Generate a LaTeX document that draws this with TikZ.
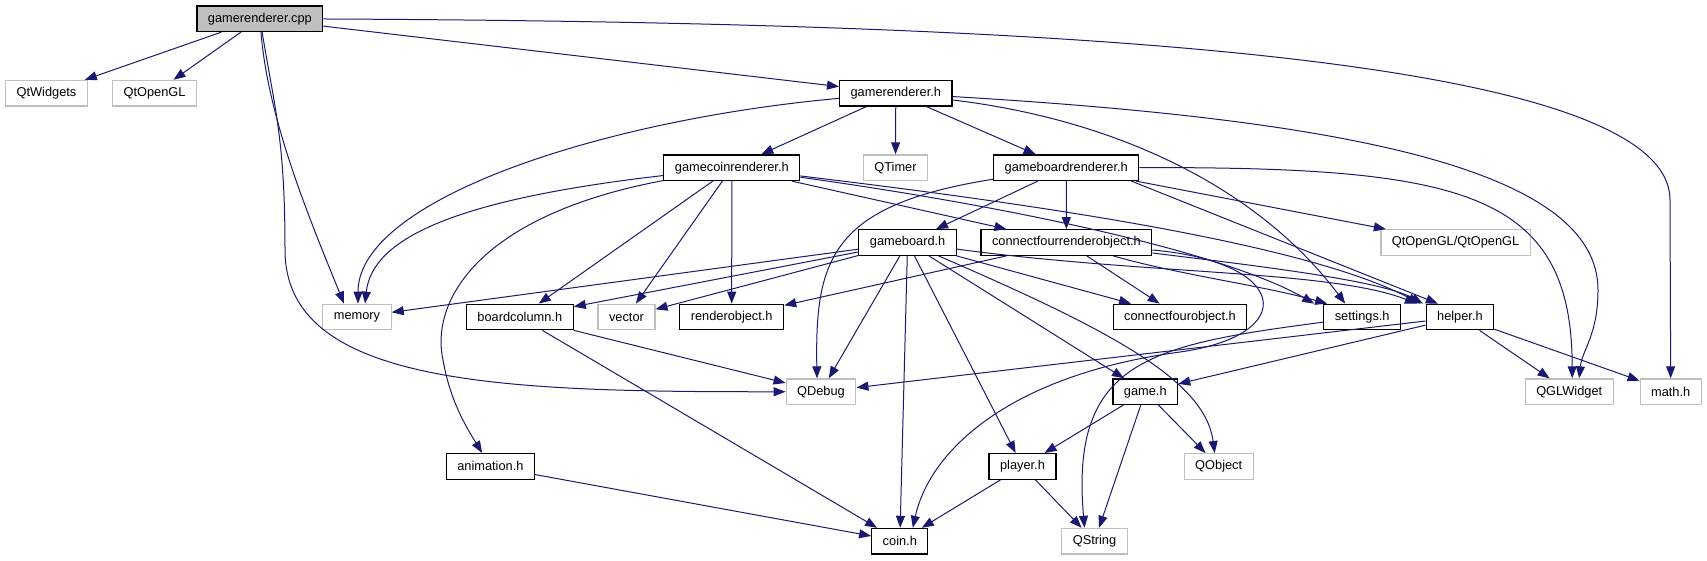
\documentclass[tikz,border=0pt]{standalone}
\usepackage{fontspec}
\setmainfont{Liberation Sans}
\usetikzlibrary{arrows.meta}
\definecolor{edgeblue}{HTML}{191970}
\definecolor{boxgray}{HTML}{BFBFBF}

\begin{document}
\begin{tikzpicture}[x=1pt,y=-1pt,
  box/.style={draw, line width=1.2pt, fill=white, inner xsep=11pt, inner ysep=0pt,
    minimum height=25.6pt, font=\fontsize{12.8}{15}\selectfont},
  incl/.style={box, draw=black},
  sys/.style={box, draw=boxgray},
  root/.style={box, draw=black, fill=boxgray},
  dep/.style={draw=edgeblue, line width=1pt, -{Triangle[length=12pt,width=9pt]}}]
\useasboundingbox (0,0) rectangle (1707,560);

\node[root] (cpp) at (259.9,18.7) {gamerenderer.cpp};
\node[sys] (qtwidgets) at (46.5,93.2) {QtWidgets};
\node[sys] (qtopengl) at (154.6,93.2) {QtOpenGL};
\node[incl] (grh) at (895.8,93.2) {gamerenderer.h};
\node[incl] (gcr) at (731.8,167.7) {gamecoinrenderer.h};
\node[sys] (qtimer) at (895.5,167.7) {QTimer};
\node[incl] (gbr) at (1066.2,167.7) {gameboardrenderer.h};
\node[incl] (gb) at (907.6,242.5) {gameboard.h};
\node[incl] (c4ro) at (1066.4,242.5) {connectfourrenderobject.h};
\node[sys] (qtgl) at (1455.6,242.5) {QtOpenGL/QtOpenGL};
\node[sys] (memory) at (357,317) {memory};
\node[incl] (bcol) at (519.8,317) {boardcolumn.h};
\node[sys] (vector) at (626.5,317) {vector};
\node[incl] (robj) at (731.7,317) {renderobject.h};
\node[incl] (c4o) at (1180,317) {connectfourobject.h};
\node[incl] (settings) at (1362.2,317) {settings.h};
\node[incl] (helper) at (1459.9,317) {helper.h};
\node[sys] (qdebug) at (821,391.7) {QDebug};
\node[incl] (game) at (1145.3,391.7) {game.h};
\node[sys] (qglw) at (1569.2,391.7) {QGLWidget};
\node[sys] (math) at (1670.7,391.7) {math.h};
\node[incl] (anim) at (490.4,466.4) {animation.h};
\node[incl] (player) at (1022.5,466.4) {player.h};
\node[sys] (qobject) at (1218.7,466.4) {QObject};
\node[incl] (coin) at (899.8,541.2) {coin.h};
\node[sys] (qstring) at (1094.5,541.2) {QString};

% gamerenderer.cpp
\draw[dep] (cpp) -- (qtwidgets);
\draw[dep] (cpp) -- (qtopengl);
\draw[dep] (cpp) -- (grh);
\draw[dep] (cpp) .. controls (1000,22) and (1670,50) .. (1670,200) -- (math);
\draw[dep] (cpp) .. controls (268,120) and (310,220) .. ([xshift=-13pt]memory.north);
\draw[dep] (cpp) .. controls (275,110) and (285,140) .. (285,250)
  .. controls (285,385) and (500,392) .. (qdebug);

% gamerenderer.h
\draw[dep] (grh) .. controls (600,120) and (358,200) .. ([xshift=1pt]memory.north);
\draw[dep] (grh) -- (gcr);
\draw[dep] (grh) -- (qtimer);
\draw[dep] (grh) -- (gbr);
\draw[dep] (grh) .. controls (1120,120) and (1260,190) .. ([xshift=-17pt]settings.north);
\draw[dep] (grh) .. controls (1350,120) and (1598,170) .. (1598,290)
  .. controls (1598,335) and (1582,350) .. ([xshift=10pt]qglw.north);

% gamecoinrenderer.h
\draw[dep] (gcr) .. controls (450,200) and (372,240) .. ([xshift=8pt]memory.north);
\draw[dep] (gcr) .. controls (480,215) and (430,300) .. (443,360)
  .. controls (450,400) and (465,425) .. (anim);
\draw[dep] (gcr) -- (bcol);
\draw[dep] (gcr) -- (vector);
\draw[dep] (gcr) -- (robj);
\draw[dep] (gcr) -- (c4ro);
\draw[dep] (gcr) .. controls (1000,205) and (1220,250) .. ([xshift=-48pt]settings.north);
\draw[dep] (gcr) .. controls (1000,200) and (1300,240) .. ([xshift=-40pt]helper.north);

% gameboardrenderer.h
\draw[dep] (gbr) .. controls (830,205) and (815,260) .. ([xshift=-4pt]qdebug.north);
\draw[dep] (gbr) -- (gb);
\draw[dep] (gbr) -- (c4ro);
\draw[dep] (gbr) -- (qtgl);
\draw[dep] ([xshift=-8pt]gbr.south east) -- ([xshift=-22pt]helper.north);
\draw[dep] (gbr) .. controls (1460,167) and (1572,190) .. ([xshift=3pt]qglw.north);

% gameboard.h
\draw[dep] (gb) -- (memory);
\draw[dep] (gb) -- (bcol);
\draw[dep] (gb) -- (vector);
\draw[dep] (gb) -- (qdebug);
\draw[dep] (gb) -- (coin);
\draw[dep] (gb) -- (player);
\draw[dep] (gb) -- (game);
\draw[dep] (gb) .. controls (1110,330) and (1205,380) .. ([xshift=-4pt]qobject.north);
\draw[dep] (gb) -- (c4o);
\draw[dep] (gb) .. controls (1150,275) and (1330,270) .. ([xshift=-43pt]helper.north);

% connectfourrenderobject.h
\draw[dep] (c4ro) -- (robj);
\draw[dep] (c4ro) -- (c4o);
\draw[dep] (c4ro) .. controls (1180,275) and (1260,285) .. ([xshift=-35pt]settings.north);
\draw[dep] (c4ro) .. controls (1250,265) and (1380,280) .. ([xshift=-37pt]helper.north);
\draw[dep] (c4ro) .. controls (1290,262) and (1300,335) .. (1180,352)
  .. controls (1010,375) and (930,450) .. ([xshift=13pt]coin.north);

% settings.h, helper.h
\draw[dep] (settings) .. controls (1150,345) and (1070,360) .. ([xshift=-10pt]qstring.north);
\draw[dep] (helper) -- (qdebug);
\draw[dep] (helper) -- (game);
\draw[dep] (helper) -- (qglw);
\draw[dep] (helper) -- (math);

% lower files
\draw[dep] (bcol) -- (qdebug);
\draw[dep] (bcol) -- (coin);
\draw[dep] (anim) -- (coin);
\draw[dep] (game) -- (player);
\draw[dep] (game) -- (qstring);
\draw[dep] (game) -- (qobject);
\draw[dep] (player) -- (coin);
\draw[dep] (player) -- (qstring);
\end{tikzpicture}
\end{document}
